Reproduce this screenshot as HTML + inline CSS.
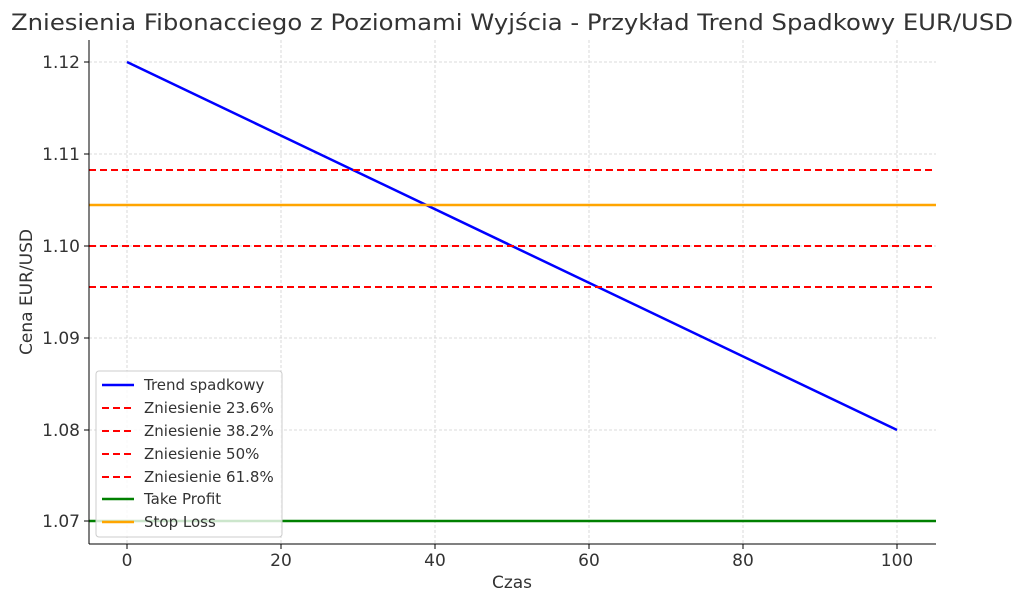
<!DOCTYPE html>
<html><head><meta charset="utf-8"><style>body{margin:0;background:#fff}svg{display:block}text{font-family:"DejaVu Sans","Liberation Sans",sans-serif;fill:#333}</style></head><body>
<svg width="1024" height="603" viewBox="0 0 1024 603" xmlns="http://www.w3.org/2000/svg">
<rect width="1024" height="603" fill="#fff"/>
<text x="512" y="30" font-size="22" text-anchor="middle" textLength="1002" lengthAdjust="spacingAndGlyphs">Zniesienia Fibonacciego z Poziomami Wyjścia - Przykład Trend Spadkowy EUR/USD</text>
<g stroke="#d0d0d0" stroke-width="0.8" stroke-dasharray="3,2">
<line x1="127" y1="40" x2="127" y2="544"/><line x1="281" y1="40" x2="281" y2="544"/><line x1="435" y1="40" x2="435" y2="544"/><line x1="589" y1="40" x2="589" y2="544"/><line x1="743" y1="40" x2="743" y2="544"/><line x1="897" y1="40" x2="897" y2="544"/>
<line x1="89" y1="62" x2="936" y2="62"/><line x1="89" y1="154" x2="936" y2="154"/><line x1="89" y1="246" x2="936" y2="246"/><line x1="89" y1="338" x2="936" y2="338"/><line x1="89" y1="430" x2="936" y2="430"/><line x1="89" y1="521" x2="936" y2="521"/>
</g>
<line x1="127" y1="62" x2="897" y2="430" stroke="#0000ff" stroke-width="2.5"/>
<g stroke="#ff0000" stroke-width="2" stroke-dasharray="7,4">
<line x1="89" y1="170" x2="936" y2="170"/><line x1="89" y1="205" x2="936" y2="205"/><line x1="89" y1="246" x2="936" y2="246"/><line x1="89" y1="287" x2="936" y2="287"/>
</g>
<line x1="89" y1="205" x2="936" y2="205" stroke="#ffa500" stroke-width="2.5"/>
<line x1="89" y1="521" x2="936" y2="521" stroke="#008000" stroke-width="2.5"/>
<line x1="89" y1="40" x2="89" y2="544" stroke="#000"/><line x1="89" y1="544" x2="936" y2="544" stroke="#000"/>
<g stroke="#000"><line x1="127" y1="544" x2="127" y2="549"/><line x1="281" y1="544" x2="281" y2="549"/><line x1="435" y1="544" x2="435" y2="549"/><line x1="589" y1="544" x2="589" y2="549"/><line x1="743" y1="544" x2="743" y2="549"/><line x1="897" y1="544" x2="897" y2="549"/>
<line x1="84" y1="62" x2="89" y2="62"/><line x1="84" y1="154" x2="89" y2="154"/><line x1="84" y1="246" x2="89" y2="246"/><line x1="84" y1="338" x2="89" y2="338"/><line x1="84" y1="430" x2="89" y2="430"/><line x1="84" y1="521" x2="89" y2="521"/></g>
<g font-size="17" text-anchor="middle"><text x="127" y="566">0</text><text x="281" y="566">20</text><text x="435" y="566">40</text><text x="589" y="566">60</text><text x="743" y="566">80</text><text x="897" y="566">100</text></g>
<g font-size="17" text-anchor="end"><text x="80" y="68">1.12</text><text x="80" y="160">1.11</text><text x="80" y="252">1.10</text><text x="80" y="344">1.09</text><text x="80" y="436">1.08</text><text x="80" y="527">1.07</text></g>
<text x="512" y="588" font-size="17" text-anchor="middle">Czas</text>
<text transform="translate(32,292) rotate(-90)" font-size="17" text-anchor="middle">Cena EUR/USD</text>
<rect x="96" y="371" width="186" height="166" rx="3" fill="#fff" fill-opacity="0.8" stroke="#ccc"/>
<g stroke-width="2.5"><line x1="102" y1="385" x2="134" y2="385" stroke="#0000ff"/>
<line x1="102" y1="408" x2="134" y2="408" stroke="#f00" stroke-width="2" stroke-dasharray="7,4"/>
<line x1="102" y1="431" x2="134" y2="431" stroke="#f00" stroke-width="2" stroke-dasharray="7,4"/>
<line x1="102" y1="454" x2="134" y2="454" stroke="#f00" stroke-width="2" stroke-dasharray="7,4"/>
<line x1="102" y1="477" x2="134" y2="477" stroke="#f00" stroke-width="2" stroke-dasharray="7,4"/>
<line x1="102" y1="499" x2="134" y2="499" stroke="#008000"/>
<line x1="102" y1="522" x2="134" y2="522" stroke="#ffa500"/></g>
<g font-size="15"><text x="144" y="390">Trend spadkowy</text><text x="144" y="413">Zniesienie 23.6%</text><text x="144" y="436">Zniesienie 38.2%</text><text x="144" y="459">Zniesienie 50%</text><text x="144" y="482">Zniesienie 61.8%</text><text x="144" y="504">Take Profit</text><text x="144" y="527">Stop Loss</text></g>
</svg>
</body></html>
